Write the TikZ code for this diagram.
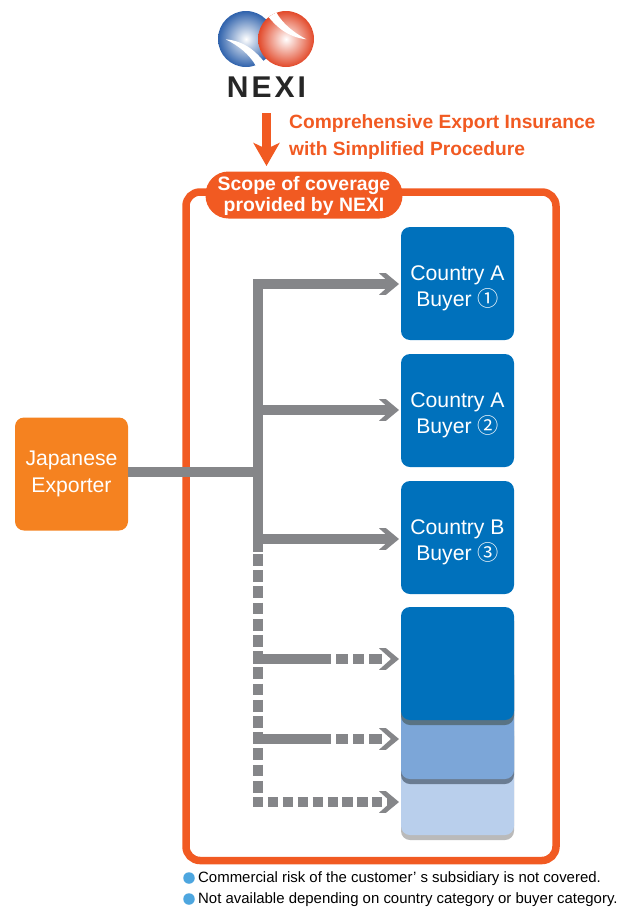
\documentclass[tikz,border=0pt]{standalone}
\usepackage{fontspec}
\setmainfont{Liberation Sans}
\newfontfamily\circlefont{Noto Sans CJK JP}
\newfontfamily\logofont[LetterSpace=10]{Liberation Sans}
\usetikzlibrary{arrows.meta}
\definecolor{nexiorange}{HTML}{F15A22}
\definecolor{exporterorange}{HTML}{F58220}
\definecolor{buyerblue}{HTML}{0071BC}
\definecolor{midblue}{HTML}{7CA6D8}
\definecolor{paleblue}{HTML}{B9CFEC}
\definecolor{linegray}{HTML}{858689}
\definecolor{bulletblue}{HTML}{4DA6DF}
\definecolor{logoblue}{HTML}{2F62AC}
\definecolor{logored}{HTML}{E2492A}
\newcommand{\boxstrut}{\rule{0pt}{25pt}}
\pgfdeclarearrow{
  name=Chevron,
  setup code={
    \pgfarrowssettipend{0pt}
    \pgfarrowssetlineend{-7pt}
    \pgfarrowssetvisualbackend{-7pt}
    \pgfarrowssetbackend{-20pt}
    \pgfarrowshullpoint{0pt}{0pt}
    \pgfarrowshullpoint{-20pt}{10.8pt}
    \pgfarrowshullpoint{-20pt}{-10.8pt}
  },
  drawing code={
    \pgfpathmoveto{\pgfpoint{0pt}{0pt}}
    \pgfpathlineto{\pgfpoint{-13pt}{10.8pt}}
    \pgfpathlineto{\pgfpoint{-20pt}{10.8pt}}
    \pgfpathlineto{\pgfpoint{-8pt}{0pt}}
    \pgfpathlineto{\pgfpoint{-20pt}{-10.8pt}}
    \pgfpathlineto{\pgfpoint{-13pt}{-10.8pt}}
    \pgfpathclose
    \pgfusepathqfill
  }
}
\tikzset{
  buyerbox/.style={rounded corners=9pt, minimum width=113pt, minimum height=113pt, inner sep=0pt, text=white, align=center, font=\fontsize{21.2}{26.2}\selectfont},
  grayline/.style={draw=linegray, line width=10pt},
  grayarrow/.style={grayline, -{Chevron}},
  notetext/.style={anchor=west, inner sep=0pt, font=\fontsize{14.95}{16}\selectfont},
  bullet/.style={circle, fill=bulletblue, minimum size=11.5pt, inner sep=0pt}
}
\begin{document}
\begin{tikzpicture}[x=1pt, y=-1pt]
\useasboundingbox (0,0) rectangle (633,908);
% logo
\shade[inner color=white, outer color=logoblue] (246,39) circle (28);
\fill[white] (225.7,39.3) .. controls (245,41) and (258,52) .. (270,70) -- (256,66) .. controls (249,54) and (239,46) .. cycle;
\begin{scope}
\clip (286,39) circle (28);
\shade[inner color=white, outer color=logored] (286,39) circle (28);
\fill[white] (306.3,39.3) .. controls (287,37) and (274,26) .. (262,8) -- (276,12) .. controls (283,24) and (293,32) .. cycle;
\end{scope}
\node[inner sep=0pt, text=black!85] (logotext) at (266.5,87) {\fontsize{30}{30}\logofont\bfseries NEXI};
% frame
\draw[nexiorange, line width=7.5pt, rounded corners=14pt] (186,192) rectangle (556,860.5);
\node[fill=nexiorange, rounded corners=23pt, minimum width=197pt, minimum height=47pt, inner sep=0pt, text=white, align=center, font=\bfseries\fontsize{19.4}{21}\selectfont] (scope) at (304,195) {\rule{0pt}{16pt}Scope of coverage\\provided by NEXI};
\coordinate (arrowtop) at (266.5,113);
\coordinate (arrowtip) at (266.5,166);
\draw[nexiorange, line width=9pt, -{Stealth[length=23pt, width=26pt, inset=6pt]}] (arrowtop) -- (arrowtip);
\node[anchor=west, inner sep=0pt, text=nexiorange, align=left, font=\bfseries\fontsize{19.2}{27}\selectfont] (title) at (289,137) {Comprehensive Export Insurance\\with Simplified Procedure};
% boxes
\node[buyerbox, fill=exporterorange] (exporter) at (71.5,474) {Japanese\\Exporter};
\node[buyerbox, fill=buyerblue] (buyerA) at (457.5,283.5) {\boxstrut Country A\\Buyer {\circlefont ①}};
\node[buyerbox, fill=buyerblue] (buyerB) at (457.5,410.5) {\boxstrut Country A\\Buyer {\circlefont ②}};
\node[buyerbox, fill=buyerblue] (buyerC) at (457.5,537.5) {\boxstrut Country B\\Buyer {\circlefont ③}};
\fill[black!27, rounded corners=9pt] (401,727) rectangle (514,840);
\node[buyerbox, fill=paleblue] (stackC) at (457.5,778.5) {};
\fill[midblue!55!black!80, rounded corners=9pt] (401,671) rectangle (514,784);
\node[buyerbox, fill=midblue] (stackB) at (457.5,722.5) {};
\fill[buyerblue!35!black!65, rounded corners=9pt] (401,612) rectangle (514,725);
\node[buyerbox, fill=buyerblue] (stackA) at (457.5,663.5) {};
% connectors
\coordinate (trunk) at (257.5,472);
\coordinate (trunkTop) at (257.5,279);
\coordinate (trunkEnd) at (257.5,552);
\coordinate (trunkA) at (253,284);
\coordinate (trunkB) at (253,410);
\coordinate (trunkC) at (253,539);
\coordinate (dashA) at (253,659);
\coordinate (dashB) at (253,739);
\coordinate (dashC) at (253,802);
\draw[grayline] (exporter.east |- trunk) -- (trunk);
\draw[grayline] (trunkTop) -- (trunkEnd);
\draw[grayline, dash pattern=on 11.7pt off 4.5pt] (257.5,554) -- (257.5,798);
\draw[grayarrow] (trunkA) -- (399,284);
\draw[grayarrow] (trunkB) -- (399,410);
\draw[grayarrow] (trunkC) -- (399,539);
\draw[grayarrow, dash pattern=on 78pt off 5pt on 12pt off 5pt on 11pt off 5pt on 13pt off 9pt] (dashA) -- (399,659);
\draw[grayarrow, dash pattern=on 78pt off 5pt on 12pt off 5pt on 11pt off 5pt on 13pt off 9pt] (dashB) -- (399,739);
\draw[grayarrow, dash pattern=on 10.2pt off 4.7pt on 10.2pt off 4.7pt on 10.2pt off 4.7pt on 10.2pt off 4.7pt on 10.2pt off 4.7pt on 10.2pt off 4.7pt on 10.2pt off 4.7pt on 10.2pt off 4.7pt on 10.2pt off 4.7pt on 10.2pt off 30pt] (dashC) -- (399,802);
% notes
\node[bullet] (bulletA) at (189,878) {};
\node[bullet] (bulletB) at (189,899) {};
\node[notetext] (noteA) at (198,879) {Commercial risk of the customer’ s subsidiary is not covered.};
\node[notetext] (noteB) at (198,900) {Not available depending on country category or buyer category.};
\end{tikzpicture}
\end{document}
